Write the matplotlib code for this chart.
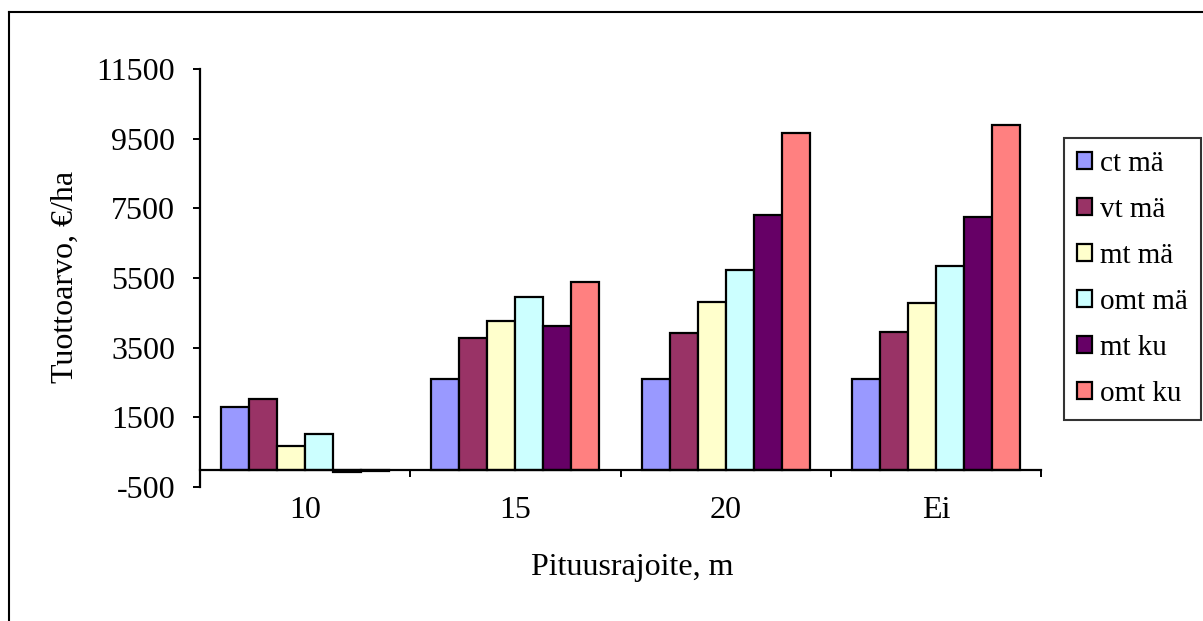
import matplotlib
matplotlib.use("Agg")
import matplotlib.pyplot as plt
from matplotlib.lines import Line2D
import numpy as np

plt.rcParams['font.family'] = ['Liberation Serif', 'DejaVu Serif']

categories = ["10", "15", "20", "Ei"]
series_names = ["ct mä", "vt mä", "mt mä", "omt mä", "mt ku", "omt ku"]
ct_ma = [1800, 2600, 2595, 2600]
vt_ma = [2020, 3780, 3935, 3950]
mt_ma = [680, 4270, 4800, 4790]
omt_ma = [1015, 4960, 5735, 5850]
mt_ku = [-80, 4130, 7300, 7260]
omt_ku = [-50, 5390, 9665, 9900]
series_values = [ct_ma, vt_ma, mt_ma, omt_ma, mt_ku, omt_ku]
colors = ["#9999FF", "#993366", "#FFFFCC", "#CCFFFF", "#660066", "#FF8080"]
yticks = [-500, 1500, 3500, 5500, 7500, 9500, 11500]

W, H = 1203, 621
fig = plt.figure(figsize=(W / 100, H / 100), dpi=100)
ax = fig.add_axes([200 / W, 1 - 487 / H, 841 / W, 418 / H])

n = len(series_names)
group_w = 0.8
bw = group_w / n
x = np.arange(len(categories))
handles = []
for i, (name, vals, c) in enumerate(zip(series_names, series_values, colors)):
    b = ax.bar(x - group_w / 2 + bw * (i + 0.5), vals, bw, color=c,
               edgecolor="black", linewidth=1.6, label=name, zorder=2)
    handles.append(b)

ax.set_xlim(-0.5, len(categories) - 0.5)
ax.set_ylim(-500, 11500)
ax.set_yticks(yticks)
ax.set_yticklabels([str(v) for v in yticks], fontsize=23)
ax.tick_params(axis="y", direction="out", length=5, width=1.4, pad=13)

for s in ["top", "right"]:
    ax.spines[s].set_visible(False)
ax.spines["left"].set_linewidth(1.6)
ax.spines["bottom"].set_position(("data", 0))
ax.spines["bottom"].set_linewidth(1.6)
ax.spines["bottom"].set_zorder(3)

ax.set_xticks(np.arange(-0.5, len(categories), 1.0))
ax.set_xticklabels([])
ax.tick_params(axis="x", which="major", direction="out", length=5, width=1.4)
ax.set_xticks(x, minor=True)
ax.set_xticklabels(categories, minor=True, fontsize=23)
ax.tick_params(axis="x", which="minor", length=0, pad=19)

fig.text(65 / W, 1 - 277 / H, "Tuottoarvo, €/ha", rotation=90,
         ha="center", va="center", fontsize=23)
fig.text(632 / W, 1 - 568 / H, "Pituusrajoite, m", ha="center",
         va="center", fontsize=23)

leg = fig.legend(handles=handles, labels=series_names, loc="upper left",
                 bbox_to_anchor=(1064 / W, 1 - 138 / H), bbox_transform=fig.transFigure,
                 fontsize=21, frameon=True, fancybox=False, handlelength=0.52,
                 handleheight=0.52, handletextpad=0.25, labelspacing=0.685,
                 borderpad=0.45, borderaxespad=0)
leg.get_frame().set_edgecolor("black")
leg.get_frame().set_linewidth(1.5)

fig.add_artist(Line2D([9 / W, 1.0], [1 - 12 / H, 1 - 12 / H],
                      transform=fig.transFigure, color="black", linewidth=1.5))
fig.add_artist(Line2D([9 / W, 9 / W], [0.0, 1 - 12 / H],
                      transform=fig.transFigure, color="black", linewidth=1.5))

fig.savefig("out.png", dpi=100)
